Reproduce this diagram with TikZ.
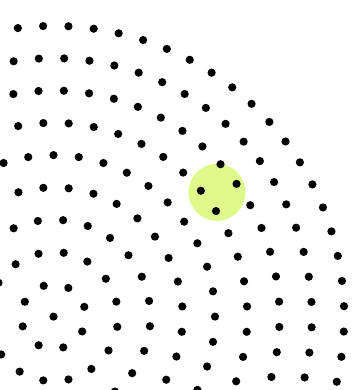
\documentclass[tikz,border=0pt]{standalone}
\definecolor{hl}{RGB}{222,250,138}
\begin{document}
\begin{tikzpicture}[x=1pt,y=-1pt, dotfill/.style={fill=black}]
\useasboundingbox (0,0) rectangle (358,390);
\clip (0,0) rectangle (358,390);
\fill[hl] (217,192.3) circle (28.5);
\coordinate (c) at (53.5,316.6);
\fill[dotfill] (c) circle (4.1);
\foreach \k/\ph in {1/17.6,2/13.4,3/9.3,4/4.5,5/0,6/3,7/3.8,8/3.25,9/2.05}{
  \pgfmathtruncatemacro\n{8*\k}
  \pgfmathsetmacro\r{32.3*\k}
  \pgfmathsetmacro\st{360/\n}
  \foreach \j in {1,...,\n}{
    \pgfmathsetmacro\a{-(\ph+\j*\st)}
    \fill[dotfill] (c) ++(\a:\r) circle (4.1);
  }
}
\end{tikzpicture}
\end{document}
